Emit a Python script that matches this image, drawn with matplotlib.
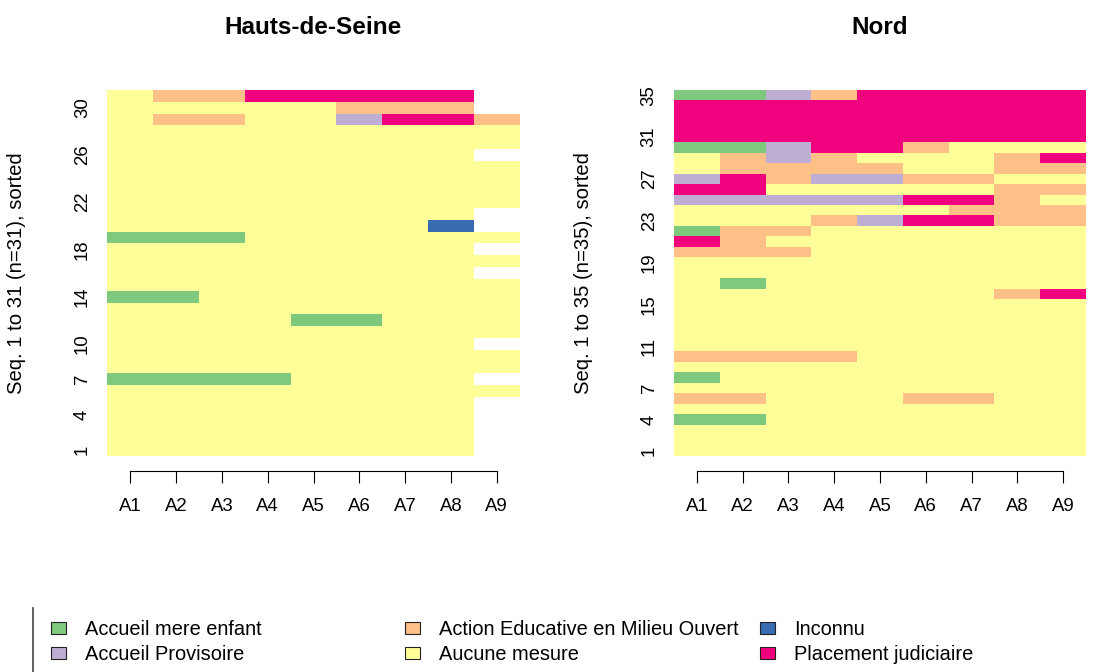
import matplotlib
matplotlib.use("Agg")
import matplotlib.pyplot as plt
from matplotlib.patches import Patch
from matplotlib.lines import Line2D

plt.rcParams['font.family'] = ['Liberation Sans', 'DejaVu Sans']

# ---------------- data ----------------
state_labels = ['Accueil mere enfant', 'Accueil Provisoire',
                'Action Educative en Milieu Ouvert', 'Aucune mesure',
                'Inconnu', 'Placement judiciaire']
state_codes = ['G', 'P', 'O', 'Y', 'B', 'R']
state_colors = ['#7FC97F', '#BEAED4', '#FDC086', '#FFFF99', '#386CB0', '#F0027F']
positions = ['A1', 'A2', 'A3', 'A4', 'A5', 'A6', 'A7', 'A8', 'A9']

# sequences listed from seq. 1 (bottom) to last (top); '.' = missing
hds_seqs = [
    'YYYYYYYY.', 'YYYYYYYY.', 'YYYYYYYY.', 'YYYYYYYY.', 'YYYYYYYY.',
    'YYYYYYYYY', 'GGGGYYYY.', 'YYYYYYYYY', 'YYYYYYYYY', 'YYYYYYYY.',
    'YYYYYYYYY', 'YYYYGGYYY', 'YYYYYYYYY', 'GGYYYYYYY', 'YYYYYYYYY',
    'YYYYYYYY.', 'YYYYYYYYY', 'YYYYYYYY.', 'GGGYYYYYY', 'YYYYYYYB.',
    'YYYYYYYY.', 'YYYYYYYYY', 'YYYYYYYYY', 'YYYYYYYYY', 'YYYYYYYYY',
    'YYYYYYYY.', 'YYYYYYYYY', 'YYYYYYYYY', 'YOOYYPRRO', 'YYYYYOOO.',
    'YOORRRRR.',
]
nord_seqs = [
    'YYYYYYYYY', 'YYYYYYYYY', 'YYYYYYYYY', 'GGYYYYYYY', 'YYYYYYYYY',
    'OOYYYOOYY', 'YYYYYYYYY', 'GYYYYYYYY', 'YYYYYYYYY', 'OOOOYYYYY',
    'YYYYYYYYY', 'YYYYYYYYY', 'YYYYYYYYY', 'YYYYYYYYY', 'YYYYYYYYY',
    'YYYYYYYOR', 'YGYYYYYYY', 'YYYYYYYYY', 'YYYYYYYYY', 'OOOYYYYYY',
    'ROYYYYYYY', 'GOOYYYYYY', 'YYYOPRROO', 'YYYYYYOOO', 'PPPPPRROY',
    'RRYYYYYOO', 'PROPPOOYY', 'YOOOOYYOO', 'YOPOYYYOR', 'GGPRROYYY',
    'RRRRRRRRR', 'RRRRRRRRR', 'RRRRRRRRR', 'RRRRRRRRR', 'GGPORRRRR',
]
hds_ticks = [1, 4, 7, 10, 14, 18, 22, 26, 30]
nord_ticks = [1, 4, 7, 11, 15, 19, 23, 27, 31, 35]
titles = ['Hauts-de-Seine', 'Nord']

# ---------------- figure ----------------
W, H = 1094, 672
fig = plt.figure(figsize=(W / 100, H / 100), dpi=100)
cmap = dict(zip(state_codes, state_colors))


def px_axes(x0, x1, y0, y1):
    return fig.add_axes([x0 / W, 1 - y1 / H, (x1 - x0) / W, (y1 - y0) / H])


def draw_panel(ax, seqs, ticks, title):
    n = len(seqs)
    for j in range(len(positions)):
        ys, cols = [], []
        for i, s in enumerate(seqs):
            c = s[j]
            if c in cmap:
                ys.append(i + 0.5)
                cols.append(cmap[c])
        ax.barh(ys, 1.0, left=j, height=1.0, color=cols,
                linewidth=0, antialiased=False)
    ax.set_xlim(0, len(positions))
    ax.set_ylim(0, n)
    for sp in ['top', 'right', 'left']:
        ax.spines[sp].set_visible(False)
    ax.spines['bottom'].set_bounds(0.5, len(positions) - 0.5)
    ax.spines['bottom'].set_position(('outward', 10.6))
    ax.spines['bottom'].set_linewidth(0.8)
    ax.set_xticks([k + 0.5 for k in range(len(positions))])
    ax.set_xticklabels(positions)
    ax.tick_params(axis='x', direction='out', length=8.6, width=0.8,
                   pad=11, labelsize=13.4)
    ax.set_yticks([t - 0.5 for t in ticks])
    ax.set_yticklabels([str(t) for t in ticks])
    ax.tick_params(axis='y', length=0, pad=11.7, labelsize=13.4)
    for lab in ax.get_yticklabels():
        lab.set_rotation(90)
        lab.set_va('center')
    ax.set_ylabel('Seq. 1 to %d (n=%d), sorted' % (n, n), fontsize=14.6)
    ax.yaxis.set_label_coords(-0.197, 0.5)
    ax.set_title(title, fontsize=17.5, fontweight='bold', pad=40.5)


ax1 = px_axes(107.3, 519.7, 90, 456)
draw_panel(ax1, hds_seqs, hds_ticks, titles[0])
ax2 = px_axes(674, 1086, 90, 456)
draw_panel(ax2, nord_seqs, nord_ticks, titles[1])

# ---------------- legend ----------------
handles = [Patch(facecolor=c, edgecolor='#222222', linewidth=0.8) for c in state_colors]
col_x = [51, 405, 760]
for k in range(3):
    hs = handles[2 * k:2 * k + 2]
    ls = state_labels[2 * k:2 * k + 2]
    fig.legend(hs, ls, loc='center left',
               bbox_to_anchor=(col_x[k] / W, 1 - 641.8 / H),
               frameon=False, fontsize=14.4, borderpad=0, borderaxespad=0,
               handlelength=0.75, handleheight=0.55, handletextpad=0.95,
               labelspacing=0.3)

fig.add_artist(Line2D([33 / W, 33 / W], [1 - 608 / H, 0], transform=fig.transFigure,
                      color='#444444', linewidth=1.2))

fig.savefig('out.png', dpi=100)
